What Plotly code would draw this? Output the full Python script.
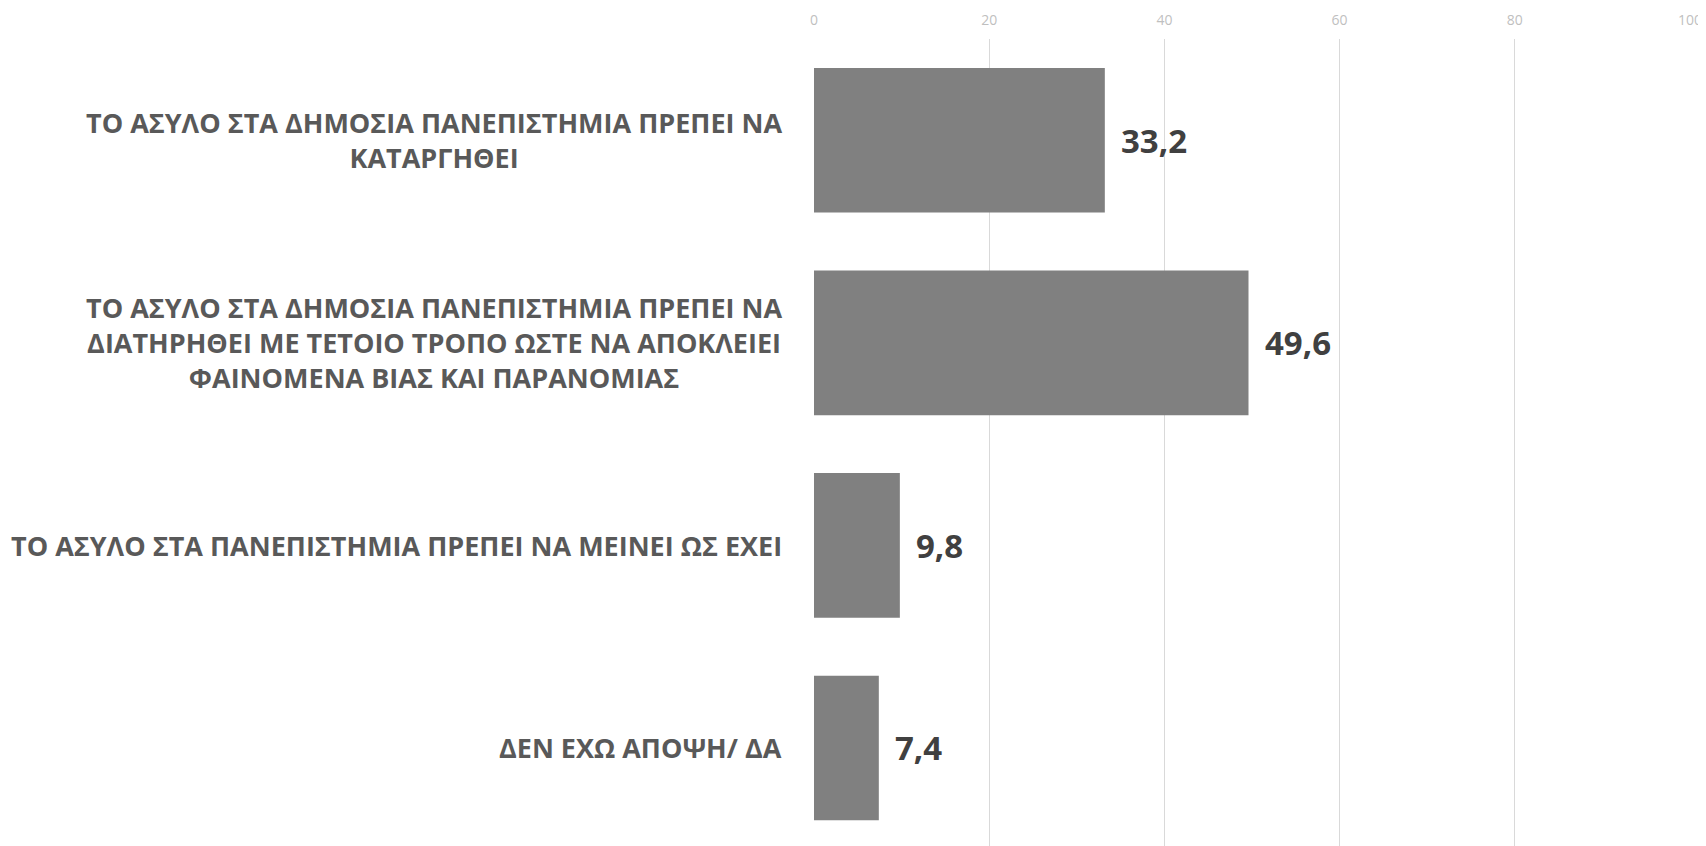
import plotly.graph_objects as go

categories = [
    "ΤΟ ΑΣΥΛΟ ΣΤΑ ΔΗΜΟΣΙΑ ΠΑΝΕΠΙΣΤΗΜΙΑ ΠΡΕΠΕΙ ΝΑ<br>ΚΑΤΑΡΓΗΘΕΙ",
    "ΤΟ ΑΣΥΛΟ ΣΤΑ ΔΗΜΟΣΙΑ ΠΑΝΕΠΙΣΤΗΜΙΑ ΠΡΕΠΕΙ ΝΑ<br>ΔΙΑΤΗΡΗΘΕΙ ΜΕ ΤΕΤΟΙΟ ΤΡΟΠΟ ΩΣΤΕ ΝΑ ΑΠΟΚΛΕΙΕΙ<br>ΦΑΙΝΟΜΕΝΑ ΒΙΑΣ ΚΑΙ ΠΑΡΑΝΟΜΙΑΣ",
    "ΤΟ ΑΣΥΛΟ ΣΤΑ ΠΑΝΕΠΙΣΤΗΜΙΑ ΠΡΕΠΕΙ ΝΑ ΜΕΙΝΕΙ ΩΣ ΕΧΕΙ",
    "ΔΕΝ ΕΧΩ ΑΠΟΨΗ/ ΔΑ",
]
values = [33.2, 49.6, 9.8, 7.4]
value_labels = ["33,2", "49,6", "9,8", "7,4"]
x_ticks = [0, 20, 40, 60, 80, 100]

FONT = "Open Sans, sans-serif"
ypos = list(range(len(categories)))

fig = go.Figure()
fig.add_trace(go.Bar(
    x=values, y=ypos, orientation="h",
    marker=dict(color="#808080", line=dict(width=0)),
    width=0.714, hoverinfo="skip",
))

for yi, v, lab in zip(ypos, values, value_labels):
    fig.add_annotation(x=v, y=yi, xref="x", yref="y", text=lab, showarrow=False,
                       xanchor="left", yanchor="middle", xshift=14,
                       font=dict(family=FONT, size=33, color="#404040", weight="bold"))

for yi, cat in zip(ypos, categories):
    fig.add_annotation(x=0, y=yi, xref="paper", yref="y", text=cat, showarrow=False,
                       xanchor="right", yanchor="middle", align="center", xshift=-30,
                       font=dict(family=FONT, size=27, color="#595959", weight="bold"))

fig.update_layout(
    width=1698, height=838,
    margin=dict(l=806, r=16, t=30.5, b=0),
    paper_bgcolor="white", plot_bgcolor="white",
    showlegend=False, bargap=0.286,
    xaxis=dict(range=[0, 100], tickvals=x_ticks, side="top", automargin=False,
               showgrid=True, gridcolor="#d9d9d9", gridwidth=1.3,
               zeroline=False, showline=False,
               tickfont=dict(family=FONT, size=14, color="#bfbfbf"),
               ticklabelstandoff=10),
    yaxis=dict(range=[3.484, -0.5], showticklabels=False, showgrid=False,
               zeroline=False, showline=False, automargin=False),
)

fig.write_html("out.html")
